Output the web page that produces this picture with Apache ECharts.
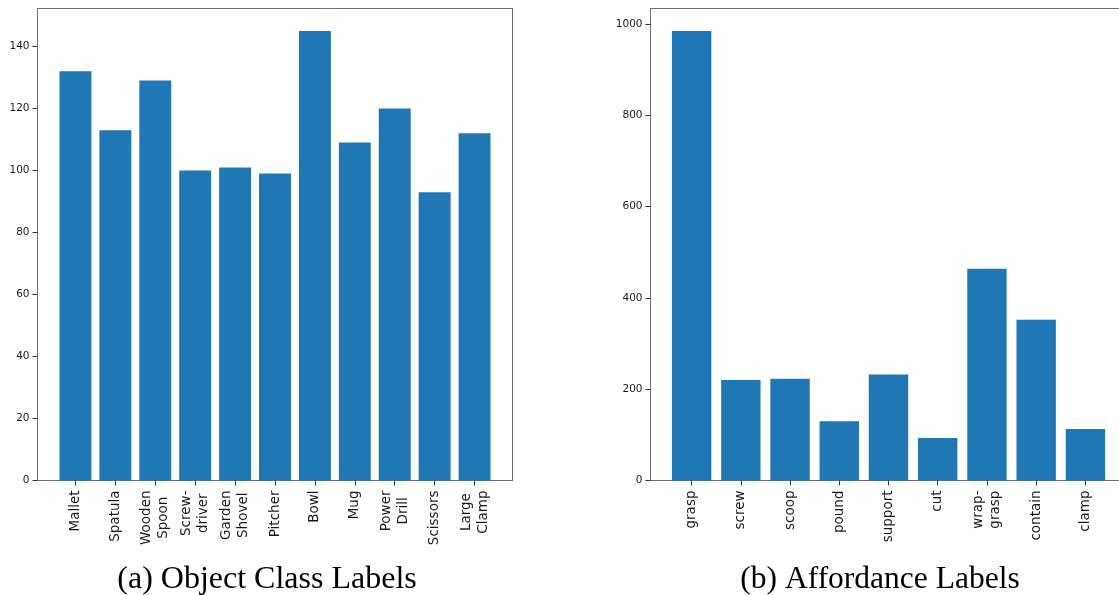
<!DOCTYPE html>
<html lang="en">
<head>
    <meta charset="UTF-8">
    <title>Object class / affordance label counts</title>
    <script src="https://cdn.jsdelivr.net/npm/echarts@6/dist/echarts.min.js"></script>
    <style>
        html, body { margin: 0; padding: 0; background: #fff; }
        #main { width: 1119px; height: 595px; }
    </style>
</head>
<body>
<div id="main"></div>
<script type="text/javascript">
    // left panel: object classes
    var objectNames = ['Mallet', 'Spatula', 'Wooden\nSpoon', 'Screw-\ndriver', 'Garden\nShovel', 'Pitcher',
        'Bowl', 'Mug', 'Power\nDrill', 'Scissors', 'Large\nClamp'];
    var objectCounts = [132, 113, 129, 100, 101, 99, 145, 109, 120, 93, 112];
    var objectTicks = [0, 20, 40, 60, 80, 100, 120, 140];

    // right panel: affordances
    var affordNames = ['grasp', 'screw', 'scoop', 'pound', 'support', 'cut', 'wrap-\ngrasp', 'contain', 'clamp'];
    var affordCounts = [985, 220, 223, 130, 232, 93, 464, 352, 113];
    var affordTicks = [0, 200, 400, 600, 800, 1000];

    var barColor = '#1f77b4';
    var textColor = '#1a1a1a';
    var spineColor = '#6f6f6f';

    // matplotlib leaves 5% headroom above the tallest bar
    var leftMax = Math.max.apply(null, objectCounts) * 1.05;
    var rightMax = Math.max.apply(null, affordCounts) * 1.05;

    var myChart = echarts.init(document.getElementById('main'));

    // rotated labels, each line centred like matplotlib does
    function splitLines(v) {
        return v.split('\n').map(function (s) { return '{c|' + s + '}'; }).join('\n');
    }

    function frameY(gridIndex, max, ticks) {
        return {
            type: 'value', gridIndex: gridIndex, min: 0, max: max,
            axisLine: {show: true, onZero: false, lineStyle: {color: spineColor, width: 1}},
            splitLine: {show: false},
            axisTick: {show: true, length: 5, customValues: ticks, lineStyle: {color: '#333'}},
            axisLabel: {customValues: ticks, fontSize: 10.5, color: textColor, margin: 8,
                fontFamily: 'DejaVu Sans', formatter: function (v) { return String(v); }}
        };
    }

    // plain spine along the top or bottom of a frame grid
    function spineX(gridIndex, pos) {
        return {
            type: 'value', gridIndex: gridIndex, position: pos, min: 0, max: 1,
            axisLine: {show: true, onZero: false, lineStyle: {color: spineColor, width: 1}},
            axisTick: {show: false}, axisLabel: {show: false}, splitLine: {show: false}
        };
    }

    function dataX(gridIndex, names) {
        return {
            type: 'category', gridIndex: gridIndex, data: names,
            axisLine: {show: false},
            axisTick: {show: true, alignWithLabel: true, length: 5, lineStyle: {color: '#333'}},
            axisLabel: {
                interval: 0, rotate: 90, margin: 10, color: textColor,
                formatter: splitLines,
                rich: {c: {align: 'center', fontSize: 13.5, lineHeight: 17, fontFamily: 'DejaVu Sans', color: textColor}}
            }
        };
    }

    var option = {
        animation: false,
        grid: [
            {left: 37.5, top: 8.5, width: 475, height: 472},
            {left: 55.5, top: 8.5, width: 439, height: 472},
            {left: 650.5, top: 8.5, width: 476, height: 472},
            {left: 667, top: 8.5, width: 443, height: 472}
        ],
        xAxis: [
            spineX(0, 'bottom'),
            spineX(0, 'top'),
            dataX(1, objectNames),
            spineX(2, 'bottom'),
            spineX(2, 'top'),
            dataX(3, affordNames)
        ],
        yAxis: [
            frameY(0, leftMax, objectTicks),
            {type: 'value', gridIndex: 0, position: 'right', min: 0, max: 1,
                axisLine: {show: true, onZero: false, lineStyle: {color: spineColor, width: 1}},
                axisTick: {show: false}, axisLabel: {show: false}, splitLine: {show: false}},
            {type: 'value', gridIndex: 1, min: 0, max: leftMax, show: false},
            frameY(2, rightMax, affordTicks),
            {type: 'value', gridIndex: 3, min: 0, max: rightMax, show: false}
        ],
        series: [
            {type: 'bar', xAxisIndex: 2, yAxisIndex: 2, data: objectCounts, barWidth: '80%',
                itemStyle: {color: barColor}},
            {type: 'bar', xAxisIndex: 5, yAxisIndex: 4, data: affordCounts, barWidth: '80%',
                itemStyle: {color: barColor}}
        ],
        graphic: [
            {type: 'text', x: 267, y: 580, style: {text: '(a) Object Class Labels', fontSize: 32,
                fontFamily: 'Liberation Serif', align: 'center', verticalAlign: 'middle', fill: '#000'}},
            {type: 'text', x: 880, y: 580, style: {text: '(b) Affordance Labels', fontSize: 31.5,
                fontFamily: 'Liberation Serif', align: 'center', verticalAlign: 'middle', fill: '#000'}}
        ]
    };

    myChart.setOption(option);
</script>
</body>
</html>
